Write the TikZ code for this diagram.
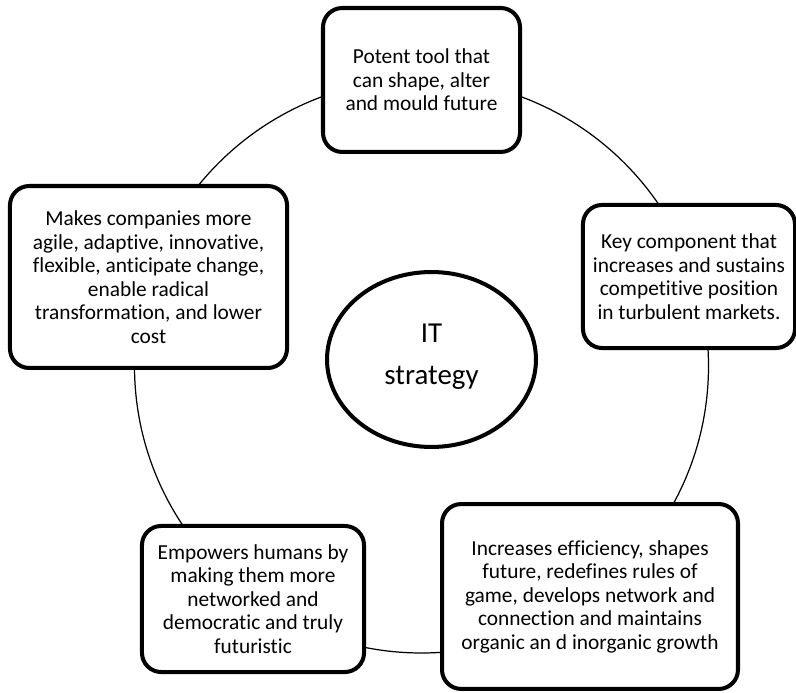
\documentclass[tikz,border=0pt]{standalone}
\usepackage{fontspec}
\setmainfont{Carlito}[Ligatures={NoCommon}]
\usepackage{tikz}
\usetikzlibrary{shapes.geometric,positioning}

\begin{document}
\begin{tikzpicture}[
  x=0.571pt, y=-0.571pt,
  ideabox/.style={rectangle, rounded corners=11pt, draw=black, fill=white,
                  line width=2.3pt, inner sep=0pt, align=center,
                  font=\fontsize{12.2}{13.4}\selectfont},
  corenode/.style={ellipse, draw=black, fill=white, line width=2.3pt,
                   inner sep=0pt, align=center,
                   font=\fontsize{16.5}{24}\selectfont},
  ring/.style={draw=black, line width=0.7pt},
]
\useasboundingbox (0,0) rectangle (796,693);

%-- outer ring behind the boxes
\coordinate (ringc) at (421.5,366);
\draw[ring] (ringc) circle [radius=287];

%-- centre
\node[corenode, minimum width=119.3pt, minimum height=99.9pt]
  (itstrat) at (431.5,359.5) {IT\\strategy\\[-18pt]};

%-- boxes round the ring
\node[ideabox, minimum width=112.5pt, minimum height=82.2pt]
  (potent) at (421.5,80) {Potent tool that\\can shape, alter\\and mould future};
\node[ideabox, minimum width=121.1pt, minimum height=81.7pt]
  (keycomp) at (689,276.5) {Key component that\\increases and sustains\\competitive position\\in turbulent markets.};
\node[ideabox, minimum width=169.0pt, minimum height=105.6pt]
  (efficiency) at (590,596.5) {Increases efficiency, shapes\\future, redefines rules of\\game, develops network and\\connection and maintains\\organic an d inorganic growth};
\node[ideabox, minimum width=126.8pt, minimum height=83.4pt]
  (empowers) at (253,599) {Empowers humans by\\making them more\\networked and\\democratic and truly\\futuristic};
\node[ideabox, minimum width=158.2pt, minimum height=103.9pt]
  (agile) at (148.5,277) {Makes companies more\\agile, adaptive, innovative,\\flexible, anticipate change,\\enable radical\\transformation, and lower\\cost};

\end{tikzpicture}
\end{document}
